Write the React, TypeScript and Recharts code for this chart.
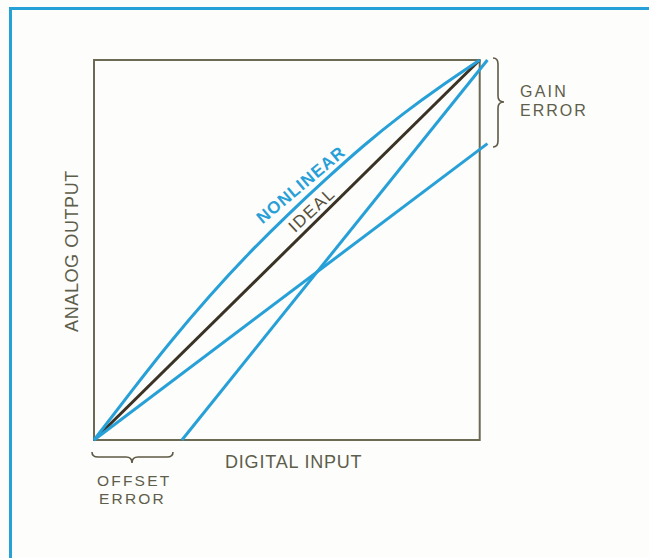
import { LineChart, Line, XAxis, YAxis, ReferenceArea } from "recharts";

// transfer curves, in box units (0..1 on both axes)
const idealX = [0, 1];
const idealY = [0, 1];
const nonlinearX = [0, 0.1, 0.2, 0.3, 0.4, 0.5, 0.6, 0.7, 0.8, 0.9, 1.0];
const nonlinearY = [0, 0.132, 0.26, 0.379, 0.489, 0.59, 0.685, 0.775, 0.857, 0.931, 1.0];
const gainX = [0, 1.02];
const gainY = [0, 0.78];
const offsetX = [0.228, 1.02];
const offsetY = [0, 1.0];

const toPoints = (xs: number[], ys: number[]) => xs.map((x, i) => ({ x, y: ys[i] }));

const idealData = toPoints(idealX, idealY);
const nonlinearData = toPoints(nonlinearX, nonlinearY);
const gainData = toPoints(gainX, gainY);
const offsetData = toPoints(offsetX, offsetY);

const BLUE = "#27a0d8";
const DARK = "#3a3325";
const INK = "#5d5e4b";
const FONT = "'Liberation Sans', Arial, sans-serif";

export default function App() {
  return (
    <div style={{ position: "absolute", left: 0, top: 0, width: 649, height: 558, background: "#fdfdfb" }}>
      {/* page frame */}
      <div
        style={{
          position: "absolute",
          left: 9,
          top: 7,
          width: 660,
          height: 560,
          borderLeft: `3px solid ${BLUE}`,
          borderTop: `3px solid ${BLUE}`,
        }}
      />
      <div style={{ position: "absolute", left: 0, top: 0 }}>
        <LineChart width={649} height={558} margin={{ top: 41, right: 150, bottom: 118, left: 94 }}>
          <XAxis dataKey="x" type="number" domain={[0, 1.05]} hide />
          <YAxis type="number" domain={[0, 1.05]} hide />
          <ReferenceArea x1={0} x2={1} y1={0} y2={1} fill="none" fillOpacity={0} stroke="#6c6a52" strokeWidth={2} />
          <Line data={idealData} dataKey="y" stroke={DARK} strokeWidth={3} dot={false} isAnimationActive={false} />
          <Line
            data={nonlinearData}
            dataKey="y"
            type="natural"
            stroke={BLUE}
            strokeWidth={3}
            dot={false}
            isAnimationActive={false}
          />
          <Line data={gainData} dataKey="y" stroke={BLUE} strokeWidth={3} dot={false} isAnimationActive={false} />
          <Line data={offsetData} dataKey="y" stroke={BLUE} strokeWidth={3} dot={false} isAnimationActive={false} />
        </LineChart>
      </div>
      <svg
        width={649}
        height={558}
        style={{ position: "absolute", left: 0, top: 0, pointerEvents: "none" }}
        fontFamily={FONT}
      >
        {/* gain error brace */}
        <path
          d="M493,58 Q498,58 498,64 L498,96 Q498,102 504,102 Q498,102 498,108 L498,141 Q498,147 493,147"
          fill="none"
          stroke="#5e5a45"
          strokeWidth={1.6}
        />
        {/* offset error brace */}
        <path
          d="M92,452 Q92,457 98,457 L126,457 Q132,457 132,463 Q132,457 138,457 L167,457 Q173,457 173,452"
          fill="none"
          stroke="#5e5a45"
          strokeWidth={1.6}
        />
        <text x={520} y={97} fontSize={16} fill={INK} letterSpacing={2.2}>GAIN</text>
        <text x={520} y={116} fontSize={16} fill={INK} letterSpacing={2}>ERROR</text>
        <text x={97} y={486} fontSize={15.5} fill={INK} letterSpacing={2.2}>OFFSET</text>
        <text x={99} y={504} fontSize={15.5} fill={INK} letterSpacing={2.2}>ERROR</text>
        <text x={225} y={468} fontSize={18} fill={INK} letterSpacing={0.8}>DIGITAL INPUT</text>
        <text
          x={71.5}
          y={251}
          fontSize={18}
          fill={INK}
          letterSpacing={0.6}
          textAnchor="middle"
          dominantBaseline="central"
          transform="rotate(-90 71.5 251)"
        >
          ANALOG OUTPUT
        </text>
        <text
          x={301}
          y={185}
          fontSize={17}
          fontWeight={600}
          fill={BLUE}
          letterSpacing={1}
          textAnchor="middle"
          dominantBaseline="central"
          transform="rotate(-40 301 185)"
        >
          NONLINEAR
        </text>
        <text
          x={312}
          y={210}
          fontSize={17}
          fill="#57503c"
          letterSpacing={1.5}
          textAnchor="middle"
          dominantBaseline="central"
          transform="rotate(-43 312 210)"
        >
          IDEAL
        </text>
      </svg>
    </div>
  );
}
